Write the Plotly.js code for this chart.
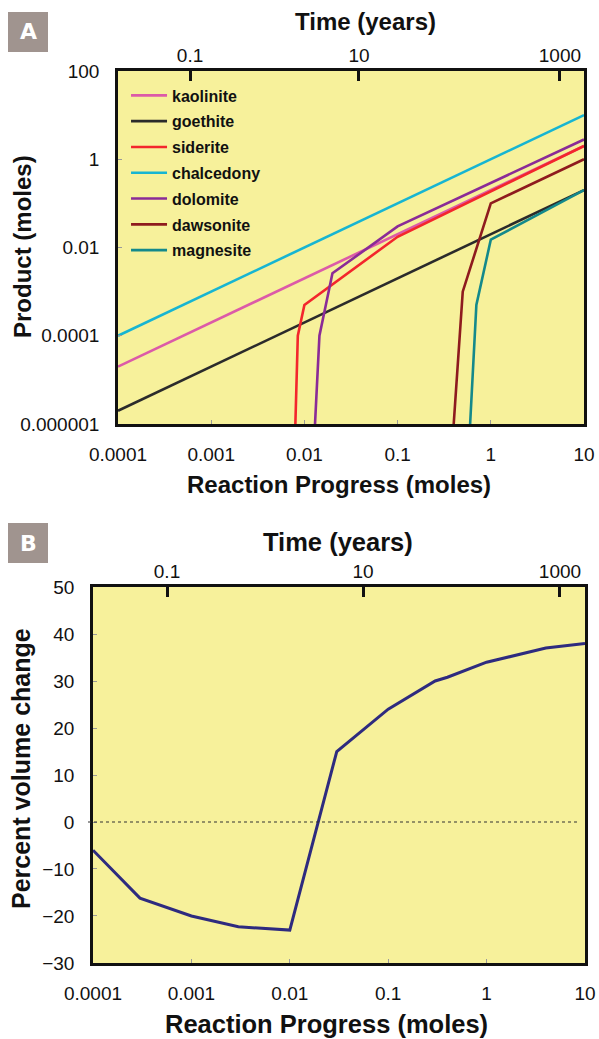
<!DOCTYPE html>
<html>
<head>
<meta charset="utf-8">
<script src="https://cdn.plot.ly/plotly-3.0.1.min.js"></script>
<style>html,body{margin:0;padding:0;background:#fff;}#chart{width:599px;height:1039px;}</style>
</head>
<body>
<div id="chart"></div>
<script>
// ---- Panel A data (Reaction progress, moles -> Product, moles) ----
const kaoliniteX = [0.0001, 10];
const kaoliniteY = [0.00002, 2];
const goethiteX = [0.0001, 10];
const goethiteY = [0.000002, 0.2];
const sideriteX = [0.008, 0.0085, 0.01, 0.1, 10];
const sideriteY = [0.000001, 0.0001, 0.0005, 0.0175, 2];
const chalcedonyX = [0.0001, 10];
const chalcedonyY = [0.0001, 10];
const dolomiteX = [0.013, 0.0145, 0.02, 0.1, 10];
const dolomiteY = [0.000001, 0.0001, 0.0026, 0.03, 2.8];
const dawsoniteX = [0.4, 0.5, 1, 10];
const dawsoniteY = [0.000001, 0.001, 0.1, 1];
const magnesiteX = [0.6, 0.7, 1, 10];
const magnesiteY = [0.000001, 0.0005, 0.015, 0.2];

// ---- Panel B data (Reaction progress -> percent volume change) ----
const volX = [0.0001, 0.0003, 0.001, 0.003, 0.01, 0.03, 0.1, 0.3, 0.4, 1, 4, 10];
const volY = [-6, -16.2, -20, -22.3, -23, 15, 24, 30, 30.8, 34, 37, 38];

// ---- Tick labels ----
const progressTickVals = [0.0001, 0.001, 0.01, 0.1, 1, 10];
const progressTickText = ['0.0001', '0.001', '0.01', '0.1', '1', '10'];
const productTickVals = [0.000001, 0.0001, 0.01, 1, 100];
const productTickText = ['0.000001', '0.0001', '0.01', '1', '100'];
const volumeTickVals = [-30, -20, -10, 0, 10, 20, 30, 40, 50];
const timeTickText = ['0.1', '10', '1000'];
const timeTickProgressA = [0.000593, 0.0385, 5.52];
const timeTickProgressB = [0.000565, 0.0555, 5.57];

const FONT = 'Liberation Sans, Arial, Helvetica, sans-serif';
const BG = '#f7f19b';

function mineral(name, x, y, color) {
  return {x: x, y: y, name: name, type: 'scatter', mode: 'lines',
          line: {color: color, width: 2.6}, xaxis: 'x', yaxis: 'y',
          legendgroup: name, hoverinfo: 'skip'};
}

const traces = [
  mineral('kaolinite', kaoliniteX, kaoliniteY, '#dc5aa8'),
  mineral('goethite', goethiteX, goethiteY, '#2b2b2b'),
  mineral('siderite', sideriteX, sideriteY, '#f3262c'),
  mineral('chalcedony', chalcedonyX, chalcedonyY, '#17b5d2'),
  mineral('dolomite', dolomiteX, dolomiteY, '#8a2b97'),
  mineral('dawsonite', dawsoniteX, dawsoniteY, '#8e1b1e'),
  mineral('magnesite', magnesiteX, magnesiteY, '#14898b'),
  {x: volX, y: volY, type: 'scatter', mode: 'lines', showlegend: false,
   line: {color: '#2e2b7f', width: 3}, xaxis: 'x2', yaxis: 'y2', hoverinfo: 'skip'},
  // invisible carriers so the top "Time (years)" axes get drawn
  {x: timeTickProgressA, y: [null, null, null], type: 'scatter', mode: 'lines', showlegend: false,
   xaxis: 'x3', yaxis: 'y', hoverinfo: 'skip'},
  {x: timeTickProgressB, y: [null, null, null], type: 'scatter', mode: 'lines', showlegend: false,
   xaxis: 'x4', yaxis: 'y2', hoverinfo: 'skip'}
];

const tickFont = {family: FONT, size: 19, color: '#111'};

const baseX = {
  type: 'log', range: [-4, 1], tickmode: 'array',
  tickvals: progressTickVals, ticktext: progressTickText,
  ticks: 'inside', ticklen: 4, tickwidth: 1, tickcolor: '#9a9a9a',
  showline: true, linecolor: '#111', linewidth: 2.8, mirror: true,
  showgrid: false, zeroline: false, tickfont: tickFont, ticklabelstandoff: 11
};
const baseTime = {
  type: 'log', range: [-4, 1], side: 'top', tickmode: 'array', ticktext: timeTickText,
  ticks: 'inside', ticklen: 10, tickwidth: 3, tickcolor: '#111',
  showline: false, showgrid: false, zeroline: false, tickfont: tickFont, ticklabelstandoff: 4
};
const baseY = {
  tickmode: 'array', ticks: 'inside', ticklen: 4, tickwidth: 1, tickcolor: '#9a9a9a',
  showline: true, linecolor: '#111', linewidth: 2.8, mirror: true,
  showgrid: false, zeroline: false, tickfont: tickFont, ticklabelstandoff: 12
};

function title(text, xpx, ypx, size, angle) {
  return {text: text, xref: 'paper', yref: 'paper', x: xpx / 599, y: 1 - ypx / 1039,
          xanchor: 'center', yanchor: 'middle', showarrow: false, textangle: angle || 0,
          font: {family: FONT, size: size, color: '#111', weight: 700}};
}

const layout = {
  width: 599, height: 1039,
  margin: {l: 0, r: 0, t: 0, b: 0},
  paper_bgcolor: '#ffffff', plot_bgcolor: BG,
  font: {family: FONT, color: '#111'},
  showlegend: true,
  legend: {x: 0.2104, y: 0.9245, xanchor: 'left', yanchor: 'top', itemwidth: 36,
           bgcolor: 'rgba(0,0,0,0)', borderwidth: 0, traceorder: 'grouped', tracegroupgap: 2,
           font: {family: FONT, size: 16, color: '#111', weight: 700}},
  xaxis: Object.assign({}, baseX, {domain: [0.19699, 0.97496], anchor: 'y'}),
  yaxis: Object.assign({}, baseY, {domain: [0.5919, 0.9317], anchor: 'x', type: 'log', range: [-6, 2],
    tickvals: productTickVals, ticktext: productTickText}),
  xaxis3: Object.assign({}, baseTime, {overlaying: 'x', anchor: 'y', tickvals: timeTickProgressA}),
  xaxis2: Object.assign({}, baseX, {domain: [0.15526, 0.97663], anchor: 'y2'}),
  yaxis2: Object.assign({}, baseY, {domain: [0.07315, 0.43503], anchor: 'x2', range: [-30, 50],
    tickvals: volumeTickVals}),
  xaxis4: Object.assign({}, baseTime, {overlaying: 'x2', anchor: 'y2', tickvals: timeTickProgressB}),
  shapes: [
    {type: 'rect', xref: 'paper', yref: 'paper', x0: 8/599, x1: 48/599, layer: 'below',
     y0: 1 - 52/1039, y1: 1 - 12/1039, fillcolor: '#a0948f', line: {width: 0}},
    {type: 'rect', xref: 'paper', yref: 'paper', x0: 8/599, x1: 48/599, layer: 'below',
     y0: 1 - 563/1039, y1: 1 - 523/1039, fillcolor: '#a0948f', line: {width: 0}},
    {type: 'line', xref: 'paper', yref: 'y2', x0: 88/599, x1: 577/599, y0: 0, y1: 0,
     line: {color: '#333', width: 1.2, dash: 'dot'}}
  ],
  annotations: [
    {text: 'A', xref: 'paper', yref: 'paper', x: 28/599, y: 1 - 32/1039, showarrow: false,
     xanchor: 'center', yanchor: 'middle',
     font: {family: 'DejaVu Sans, sans-serif', size: 22, color: '#fff', weight: 700}},
    {text: 'B', xref: 'paper', yref: 'paper', x: 28/599, y: 1 - 543/1039, showarrow: false,
     xanchor: 'center', yanchor: 'middle',
     font: {family: 'DejaVu Sans, sans-serif', size: 22, color: '#fff', weight: 700}},
    title('Time (years)', 365, 21, 24),
    title('Reaction Progress (moles)', 339, 484, 24),
    title('Product (moles)', 22, 247, 24, -90),
    title('Time (years)', 338, 542, 25.5),
    title('Reaction Progress (moles)', 326, 1024, 25.5),
    title('Percent volume change', 21, 769, 25, -90)
  ]
};

Plotly.newPlot('chart', traces, layout, {staticPlot: true, displayModeBar: false});
</script>
</body>
</html>
